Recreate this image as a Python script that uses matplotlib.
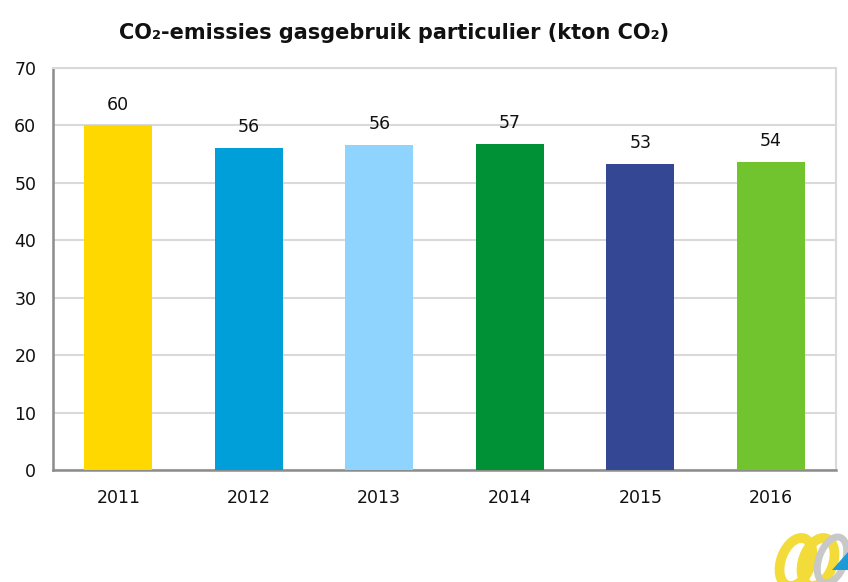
import matplotlib.pyplot as plt
from matplotlib.patches import Ellipse, Polygon

years = ["2011", "2012", "2013", "2014", "2015", "2016"]
emissions = [60.0, 56.1, 56.6, 56.8, 53.3, 53.7]
labels = ["60", "56", "56", "57", "53", "54"]
colors = ["#FFD800", "#009FDA", "#8FD3FF", "#009036", "#344794", "#72C42F"]

plt.rcParams["font.family"] = ["DejaVu Sans"]

fig = plt.figure(figsize=(8.48, 5.82), dpi=100)
ax = fig.add_axes([53 / 848, 1 - 470 / 582, 783 / 848, 402 / 582])

x = range(len(years))
bars = ax.bar(x, emissions, width=0.52, color=colors, zorder=3)
for rect, lab in zip(bars, labels):
    ax.text(rect.get_x() + rect.get_width() / 2, rect.get_height() + 2.0, lab,
            ha="center", va="bottom", fontsize=12.5, color="#111111")

ax.set_xlim(-0.5, len(years) - 0.5)
ax.set_ylim(0, 70)
ax.set_yticks(range(0, 71, 10))
ax.set_xticks(list(x))
ax.set_xticklabels(years)
ax.tick_params(axis="both", length=0, labelsize=12.5, colors="#111111")
ax.tick_params(axis="x", pad=14)
ax.tick_params(axis="y", pad=12)
ax.grid(axis="y", color="#D9D9D9", linewidth=1.5, zorder=0)

for side in ["top", "right"]:
    ax.spines[side].set_color("#D9D9D9")
    ax.spines[side].set_linewidth(1.5)
for side in ["left", "bottom"]:
    ax.spines[side].set_color("#8C8C8C")
    ax.spines[side].set_linewidth(1.8)

fig.text(394 / 848, 1 - 33 / 582, "CO₂-emissies gasgebruik particulier (kton CO₂)",
         ha="center", va="center", fontsize=15, fontweight="bold", color="#111111")

# partial logo in the bottom right corner
lx = fig.add_axes([770 / 848, 0, 78 / 848, 62 / 582])
lx.set_xlim(0, 78)
lx.set_ylim(0, 62)
lx.axis("off")
lx.add_patch(Ellipse((26, 20), 30, 50, angle=-20, fill=False, lw=7, ec="#F3DC3A"))
lx.add_patch(Ellipse((48, 20), 30, 50, angle=-20, fill=False, lw=7, ec="#F3DC3A"))
lx.add_patch(Ellipse((62, 22), 26, 48, angle=-20, fill=False, lw=5, ec="#C8C8C8"))
lx.add_patch(Polygon([[62, 12], [78, 12], [78, 30]], closed=True, fc="#1E9BD7", ec="none"))

fig.savefig("out.png", dpi=100)
